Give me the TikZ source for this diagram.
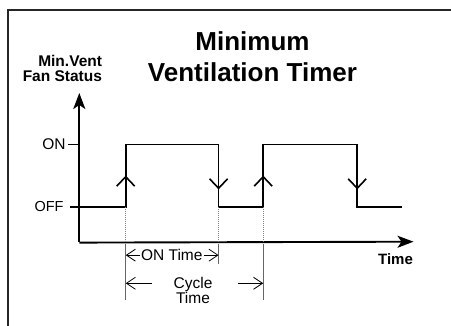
\documentclass[tikz,border=0pt]{standalone}
\usepackage{fontspec}
\setmainfont{Liberation Sans}
\usetikzlibrary{arrows.meta}
\begin{document}
\begin{tikzpicture}[x=1pt,y=-1pt,
  txt/.style={inner sep=0pt,outer sep=0pt,anchor=base},
  axis/.style={line width=1.9pt,-{Stealth[length=16pt,width=12pt,inset=4pt]}},
  sig/.style={line width=1.6pt,line join=miter},
  tick/.style={line width=1.5pt},
  dotl/.style={gray,line width=0.9pt,dash pattern=on 1pt off 1pt},
  dimline/.style={gray!80!black,line width=0.9pt},
  dimarr/.style={line width=0.8pt,-{Straight Barb[length=9pt,width=12pt,line width=0.8pt]}},
  frame/.style={line width=2pt,black!85},
  uparrowv/.pic={\draw[sig] (-9,9.5) -- (0,0) -- (9,9.5);},
  downarrowv/.pic={\draw[sig] (-9,-9.5) -- (0,0) -- (9,-9.5);}
]
\useasboundingbox (0,0) rectangle (451,326);
% frame
\draw[frame] (8.3,330) -- (8.3,10) -- (455,10);
% title
\node[txt,font=\fontsize{26}{31}\bfseries] (t1) at (252.5,50.7) {Minimum};
\node[txt,font=\fontsize{26}{31}\bfseries] (t2) at (252.5,81.7) {Ventilation Timer};
% axis labels
\node[txt,anchor=base east,font=\fontsize{15.5}{16}\bfseries] (yl1) at (102,66.7) {Min.Vent};
\node[txt,anchor=base east,font=\fontsize{15.5}{16}\bfseries] (yl2) at (102,81.7) {Fan Status};
\node[txt,font=\fontsize{15}{16}\bfseries] (xl) at (395.5,264.3) {Time};
\node[txt,anchor=base east,font=\fontsize{15.5}{16}\selectfont] (on) at (65.5,149.3) {ON};
\node[txt,anchor=base east,font=\fontsize{14.5}{16}\selectfont] (off) at (63.5,211.7) {OFF};
% coordinates
\coordinate (o) at (79.3,241.7);
\coordinate (ya) at (79.3,93);
\coordinate (xa) at (413.5,241.7);
\coordinate (a) at (125.7,207);
\coordinate (b) at (218.6,207);
\coordinate (c) at (263.2,207);
\coordinate (d) at (357.2,207);
% axes
\draw[axis] (o) -- (ya);
\draw[axis] (79.3,242.6) -- (xa);
% ticks
\draw[tick] (68,144.4) -- (79.3,144.4);
% signal
\draw[sig] (70,207) -- (a) -- (125.7,144.4) -- (218.6,144.4) -- (b) -- (c)
  -- (263.2,144.4) -- (357.2,144.4) -- (d) -- (401.7,207);
\pic at (125.7,176.7) {uparrowv};
\pic at (218.6,188.3) {downarrowv};
\pic at (263.2,176.7) {uparrowv};
\pic at (357.2,188.3) {downarrowv};
% dotted guides
\draw[dotl] (a) -- (a |- o);
\draw[dotl] (b) -- (b |- o);
\draw[dotl] (c) -- (c |- o);
% dimension lines
\draw[dimline] (125.7,244) -- (125.7,300);
\draw[dimline] (218.6,244) -- (218.6,264);
\draw[dimline] (263.2,244) -- (263.2,300);
% ON Time
\node[txt,font=\fontsize{15.5}{16}\selectfont] (ontime) at (171.8,260.7) {ON Time};
\draw[dimarr] ([xshift=-1.5pt]ontime.west) -- (a |- ontime.west);
\draw[dimarr] ([xshift=1.5pt]ontime.east) -- (b |- ontime.east);
% Cycle Time
\node[txt,font=\fontsize{15.5}{16}\selectfont] (cyc) at (193,289) {Cycle};
\node[txt,font=\fontsize{15.5}{16}\selectfont] (cyt) at (193,304) {Time};
\coordinate (cl) at (152,283.3);
\coordinate (cr) at (238,283.3);
\draw[dimarr] (cl) -- (a |- cl);
\draw[dimarr] (cr) -- (c |- cr);
\end{tikzpicture}
\end{document}
